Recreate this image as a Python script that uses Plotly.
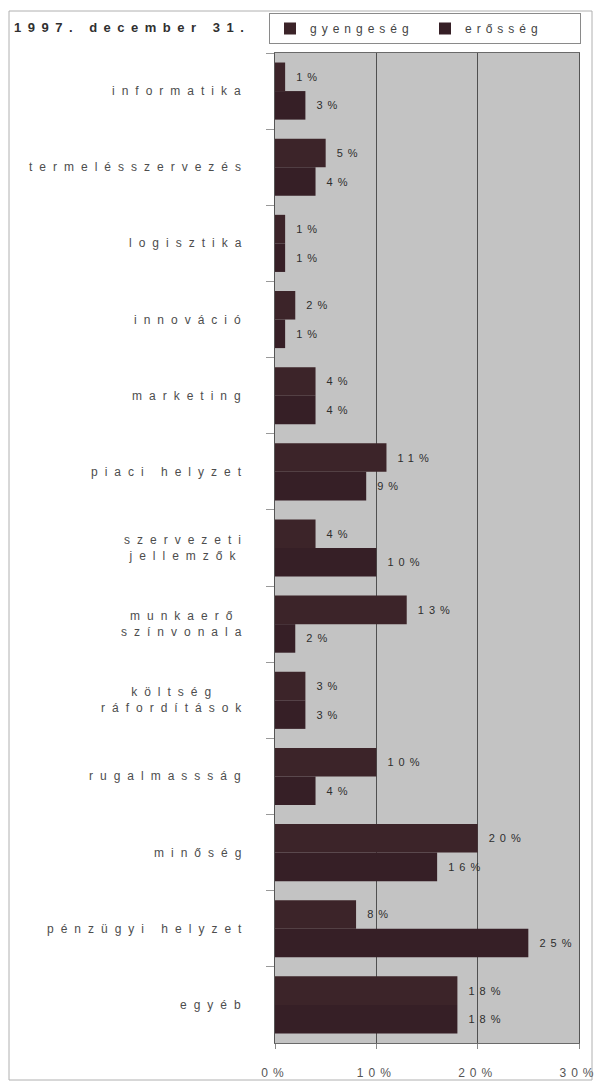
import plotly.graph_objects as go

# Categories (top to bottom) and the two series, in percent
categories = [
    "informatika",
    "termelésszervezés",
    "logisztika",
    "innováció",
    "marketing",
    "piaci helyzet",
    "szervezeti<br>jellemzők",
    "munkaerő<br>színvonala",
    "költség<br>ráfordítások",
    "rugalmassság",
    "minőség",
    "pénzügyi helyzet",
    "egyéb",
]
gyengeseg = [1, 5, 1, 2, 4, 11, 4, 13, 3, 10, 20, 8, 18]
erosseg = [3, 4, 1, 1, 4, 9, 10, 2, 3, 4, 16, 25, 18]

series_names = ["gyengeség", "erősség"]
x_tick_values = [0, 10, 20, 30]
x_tick_labels = ["0%", "10%", "20%", "30%"]
title_text = "1997. december 31."

FONT = "Liberation Sans, Arial, sans-serif"
W, H = 605, 1085
ML, MR, MT, MB = 275, 26, 53, 42
PW, PH = W - ML - MR, H - MT - MB


def spaced(s, px):
    return f'<span style="letter-spacing:{px}px">{s}</span>'


def px_x(p):
    return (p - ML) / PW


def px_y(p):
    return (H - MB - p) / PH


fig = go.Figure()
bar_colors = ["#3c2429", "#361f26"]
for name, vals, col in zip(series_names, [gyengeseg, erosseg], bar_colors):
    fig.add_trace(go.Bar(
        y=categories,
        x=vals,
        orientation="h",
        name=spaced(name, 5),
        marker=dict(color=col, line=dict(width=0)),
        text=[spaced("\u00a0" + f"{v}%", 5) for v in vals],
        texttemplate="%{text}",
        textposition="outside",
        textfont=dict(family=FONT, size=11, color="#2e2e2e"),
        constraintext="none",
        cliponaxis=False,
        hoverinfo="skip",
    ))

# Category labels, right-aligned beside the axis, multi-line centred
annotations = []
for c in categories:
    annotations.append(dict(
        x=px_x(250), xref="paper", xanchor="right",
        y=c, yref="y", yanchor="middle",
        text=spaced(c.replace("<br>", "</span><br><span style=\"letter-spacing:7px\">"), 7),
        align="center", showarrow=False,
        font=dict(family=FONT, size=12, color="#4d4d4d"),
    ))

annotations.append(dict(
    x=px_x(12), xref="paper", xanchor="left",
    y=px_y(28), yref="paper", yanchor="middle",
    text="<b>" + spaced(title_text, 6.5) + "</b>",
    showarrow=False,
    font=dict(family=FONT, size=13, color="#303030"),
))

fig.update_layout(
    width=W, height=H,
    margin=dict(l=ML, r=MR, t=MT, b=MB, pad=0, autoexpand=False),
    paper_bgcolor="#ffffff",
    plot_bgcolor="#c3c3c3",
    barmode="group",
    bargap=0.25,
    bargroupgap=0,
    font=dict(family=FONT, color="#444444"),
    showlegend=True,
    legend=dict(
        orientation="h",
        x=px_x(269), xanchor="left",
        y=px_y(13), yanchor="top",
        bordercolor="#8a8a8a", borderwidth=1,
        bgcolor="#ffffff",
        font=dict(family=FONT, size=12, color="#444444"),
        entrywidth=110,
        itemwidth=30,
        traceorder="normal",
    ),
    annotations=annotations,
    shapes=[dict(
        type="rect", xref="paper", yref="paper",
        x0=px_x(9), x1=px_x(592), y0=px_y(1080), y1=px_y(11),
        line=dict(color="#b0b0b0", width=1), layer="below",
    )],
)

fig.update_xaxes(
    range=[0, 30],
    tickvals=x_tick_values,
    ticktext=[spaced(t, 5) for t in x_tick_labels],
    tickfont=dict(family=FONT, size=12, color="#555555"),
    showgrid=True, gridcolor="#505050", gridwidth=1,
    zeroline=False,
    showline=True, linecolor="#6a6a6a", linewidth=1, mirror=True,
    ticks="outside", ticklen=5, tickcolor="#888888",
    ticklabelstandoff=14,
    automargin=False,
    fixedrange=True,
)
fig.update_yaxes(
    autorange="reversed",
    showticklabels=False,
    showgrid=False,
    showline=True, linecolor="#555555", linewidth=1, mirror=True,
    ticks="outside", ticklen=8, tickcolor="#999999",
    tickson="boundaries",
    automargin=False,
    fixedrange=True,
)

fig.write_html("out.html")
